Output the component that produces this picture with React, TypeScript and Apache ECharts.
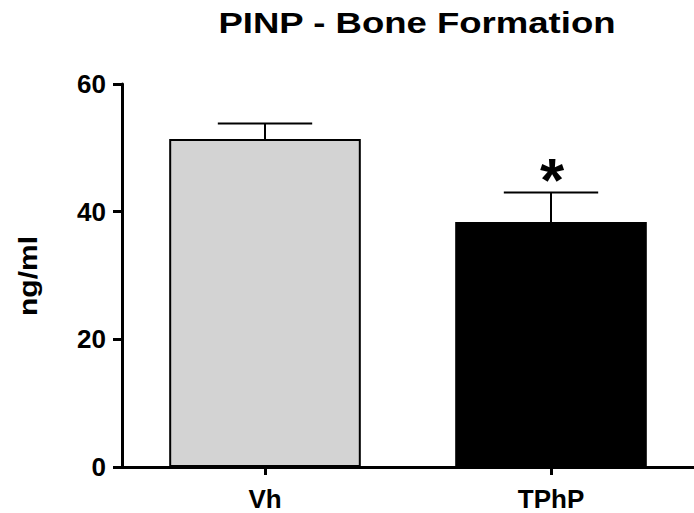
import React, { useEffect, useRef } from "react";
import * as echarts from "echarts";

const categories = ["Vh", "TPhP"];
const means = [51.4, 38.4];
const sems = [2.4, 4.6];
const significance = ["", "*"];
const barColors = ["#d3d3d3", "#000000"];
const yTicks = { min: 0, max: 60, interval: 20 };

const FONT = "Liberation Sans, Arial, Helvetica, sans-serif";

export default function App() {
  const ref = useRef<HTMLDivElement>(null);
  useEffect(() => {
    if (!ref.current) return;
    const chart = echarts.init(ref.current, null, { renderer: "svg" });
    const errData = means.map((m, i) => [i, m, m + sems[i], significance[i]]);
    chart.setOption({
      animation: false,
      backgroundColor: "#ffffff",
      grid: { left: 122, right: 0, top: 84, bottom: 46, containLabel: false },
      graphic: [
        {
          type: "text",
          x: 417,
          y: 23,
          scaleX: 1.26,
          style: {
            text: "PINP - Bone Formation",
            font: `bold 29px ${FONT}`,
            fill: "#000",
            textAlign: "center",
            textVerticalAlign: "middle",
          },
        },
        {
          type: "text",
          x: 28,
          y: 276,
          rotation: Math.PI / 2,
          scaleX: 1.2,
          style: {
            text: "ng/ml",
            font: `bold 25px ${FONT}`,
            fill: "#000",
            textAlign: "center",
            textVerticalAlign: "middle",
          },
        },
      ],
      xAxis: {
        type: "category",
        data: categories,
        axisLine: { show: true, lineStyle: { color: "#000", width: 3 } },
        axisTick: { show: true, alignWithLabel: true, length: 8, lineStyle: { color: "#000", width: 3 } },
        axisLabel: { color: "#000", fontSize: 26, fontWeight: "bold", fontFamily: FONT, margin: 19 },
        splitLine: { show: false },
      },
      yAxis: {
        type: "value",
        min: yTicks.min,
        max: yTicks.max,
        interval: yTicks.interval,
        axisLine: { show: true, lineStyle: { color: "#000", width: 3 } },
        axisTick: { show: true, length: 9, lineStyle: { color: "#000", width: 3 } },
        axisLabel: { color: "#000", fontSize: 26, fontWeight: "bold", fontFamily: FONT, margin: 16 },
        splitLine: { show: false },
      },
      series: [
        {
          type: "bar",
          barWidth: "67%",
          data: means.map((v, i) => ({
            value: v,
            itemStyle: { color: barColors[i], borderColor: "#000", borderWidth: 2 },
          })),
          z: 2,
        },
        {
          type: "custom",
          z: 5,
          data: errData,
          encode: { x: 0, y: [1, 2] },
          renderItem: (params: any, api: any) => {
            const idx = api.value(0);
            const base = api.coord([idx, api.value(1)]);
            const top = api.coord([idx, api.value(2)]);
            const half = api.size([1, 0])[0] * 0.165;
            const sig = significance[params.dataIndex];
            const children: any[] = [
              {
                type: "line",
                shape: { x1: base[0], y1: base[1], x2: top[0], y2: top[1] },
                style: { stroke: "#000", lineWidth: 2 },
              },
              {
                type: "line",
                shape: { x1: top[0] - half, y1: top[1], x2: top[0] + half, y2: top[1] },
                style: { stroke: "#000", lineWidth: 2 },
              },
            ];
            if (sig) {
              children.push({
                type: "text",
                x: top[0] + 1,
                y: top[1] + 18,
                style: {
                  text: sig,
                  font: `bold 62px ${FONT}`,
                  fill: "#000",
                  textAlign: "center",
                  textVerticalAlign: "bottom",
                },
              });
            }
            return { type: "group", children };
          },
        },
      ],
    });
    return () => chart.dispose();
  }, []);
  return (
    <div
      ref={ref}
      style={{ position: "absolute", left: 0, top: 0, width: 694, height: 513 }}
    />
  );
}
